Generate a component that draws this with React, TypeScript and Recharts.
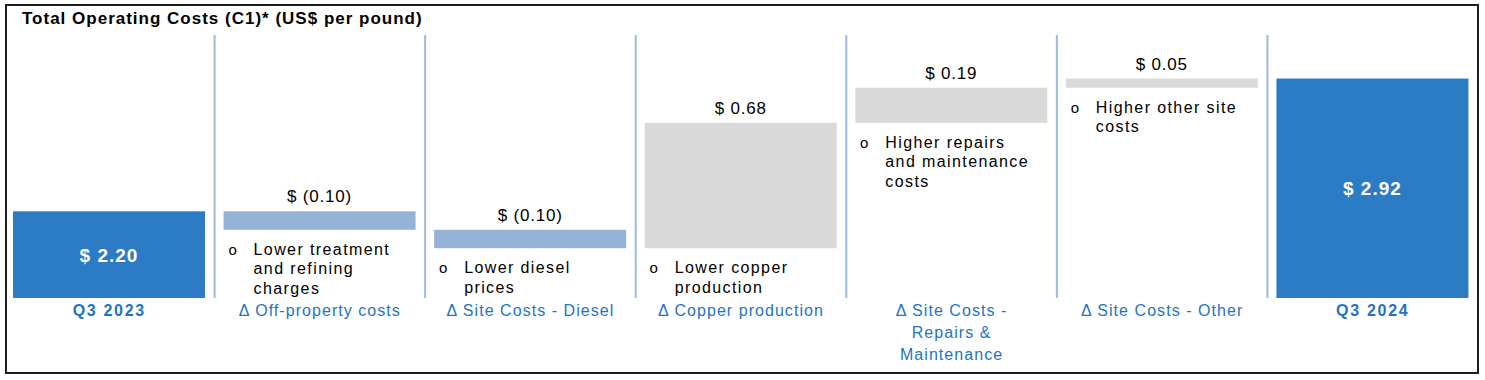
import React from 'react';
import { BarChart, Bar, XAxis, YAxis, Cell, ReferenceLine } from 'recharts';

const categories = [
  'Q3 2023',
  'Δ Off-property costs',
  'Δ Site Costs - Diesel',
  'Δ Copper production',
  'Δ Site Costs - Repairs & Maintenance',
  'Δ Site Costs - Other',
  'Q3 2024',
];
const values = [2.2, -0.1, -0.1, 0.68, 0.19, 0.05, 2.92];
const isTotal = [true, false, false, false, false, false, true];
const valueLabels = ['$ 2.20', '$ (0.10)', '$ (0.10)', '$ 0.68', '$ 0.19', '$ 0.05', '$ 2.92'];
const noteLines: string[][] = [
  [],
  ['Lower treatment', 'and refining', 'charges'],
  ['Lower diesel', 'prices'],
  ['Lower copper', 'production'],
  ['Higher repairs', 'and maintenance', 'costs'],
  ['Higher other site', 'costs'],
  [],
];
const axisLabelLines: string[][] = [
  ['Q3 2023'],
  ['Δ Off-property costs'],
  ['Δ Site Costs - Diesel'],
  ['Δ Copper production'],
  ['Δ Site Costs -', 'Repairs &', 'Maintenance'],
  ['Δ Site Costs - Other'],
  ['Q3 2024'],
];
const TITLE = 'Total Operating Costs (C1)* (US$ per pound)';

const AXIS_MIN = 1.73;
const AXIS_MAX = 3.156;

const TOTAL_COLOR = '#2b7cc4';
const NEG_COLOR = '#95b3d7';
const POS_COLOR = '#d9d9d9';
const SEP_COLOR = '#9dbbe0';
const AXIS_TEXT = '#1f74c1';
const FONT = '"Liberation Sans", Arial, sans-serif';

let running = 0;
const data = categories.map((name, i) => {
  let range: [number, number];
  if (isTotal[i]) {
    range = [AXIS_MIN, values[i]];
    running = values[i];
  } else {
    const start = running;
    const end = running + values[i];
    range = [Math.min(start, end), Math.max(start, end)];
    running = end;
  }
  return { name, range };
});

const barFill = (i: number) => (isTotal[i] ? TOTAL_COLOR : values[i] < 0 ? NEG_COLOR : POS_COLOR);

const BarShape = (props: any) => {
  const { x, y, width, height, index } = props;
  const top = height < 0 ? y + height : y;
  const h = Math.abs(height);
  const cx = x + width / 2;
  const i = index;
  const notes = noteLines[i] || [];
  return (
    <g>
      <rect x={x} y={top} width={width} height={h} fill={barFill(i)} />
      {isTotal[i] ? (
        <text
          x={cx}
          y={top + h / 2 + 7}
          textAnchor="middle"
          fill="#ffffff"
          fontFamily={FONT}
          fontWeight="bold"
          fontSize={19}
          letterSpacing={1.0}
        >
          {valueLabels[i]}
        </text>
      ) : (
        <g>
          <text
            x={cx}
            y={top - 9}
            textAnchor="middle"
            fill="#000000"
            fontFamily={FONT}
            fontSize={17}
            letterSpacing={0.8}
          >
            {valueLabels[i]}
          </text>
          {notes.length > 0 && (
            <g>
              <text x={x + 9} y={top + h + 25} textAnchor="middle" fontFamily={FONT} fontSize={15} fill="#000">
                o
              </text>
              <text x={x + 30} y={top + h + 25} fontFamily={FONT} fontSize={16} letterSpacing={1.4} fill="#000">
                {notes.map((l, k) => (
                  <tspan key={k} x={x + 30} dy={k === 0 ? 0 : 19.5}>
                    {l}
                  </tspan>
                ))}
              </text>
            </g>
          )}
        </g>
      )}
    </g>
  );
};

const AxisTick = (props: any) => {
  const { x, y, index } = props;
  const lines = axisLabelLines[index] || [];
  return (
    <text
      x={x}
      y={y + 18}
      textAnchor="middle"
      fill={AXIS_TEXT}
      fontFamily={FONT}
      fontSize={16}
      fontWeight={isTotal[index] ? 'bold' : 'normal'}
      letterSpacing={isTotal[index] ? 1.7 : 1.05}
    >
      {lines.map((l, k) => (
        <tspan key={k} x={x} dy={k === 0 ? 0 : 22}>
          {l}
        </tspan>
      ))}
    </text>
  );
};

export default function App() {
  return (
    <div style={{ position: 'absolute', left: 0, top: 0, width: 1485, height: 380, background: '#ffffff' }}>
      <BarChart
        width={1485}
        height={380}
        data={data}
        margin={{ top: 35, right: 7, bottom: 22, left: 4 }}
        barSize={192}
      >
        <XAxis
          dataKey="name"
          height={60}
          axisLine={false}
          tickLine={false}
          tickSize={0}
          tickMargin={0}
          interval={0}
          tick={<AxisTick />}
        />
        <YAxis hide domain={[AXIS_MIN, AXIS_MAX]} allowDataOverflow />
        {categories.slice(1).map((c) => (
          <ReferenceLine key={c} x={c} position="start" stroke={SEP_COLOR} strokeWidth={2} />
        ))}
        <Bar dataKey="range" isAnimationActive={false} shape={<BarShape />}>
          {data.map((d, i) => (
            <Cell key={i} fill={barFill(i)} />
          ))}
        </Bar>
      </BarChart>
      <svg
        width={1485}
        height={380}
        style={{ position: 'absolute', left: 0, top: 0, pointerEvents: 'none' }}
      >
        <rect x={6} y={5} width={1472} height={368} fill="none" stroke="#1e1e1e" strokeWidth={2} />
        <text x={22} y={23.5} fontFamily={FONT} fontWeight="bold" fontSize={17} letterSpacing={1.0} fill="#000">
          {TITLE}
        </text>
      </svg>
    </div>
  );
}
